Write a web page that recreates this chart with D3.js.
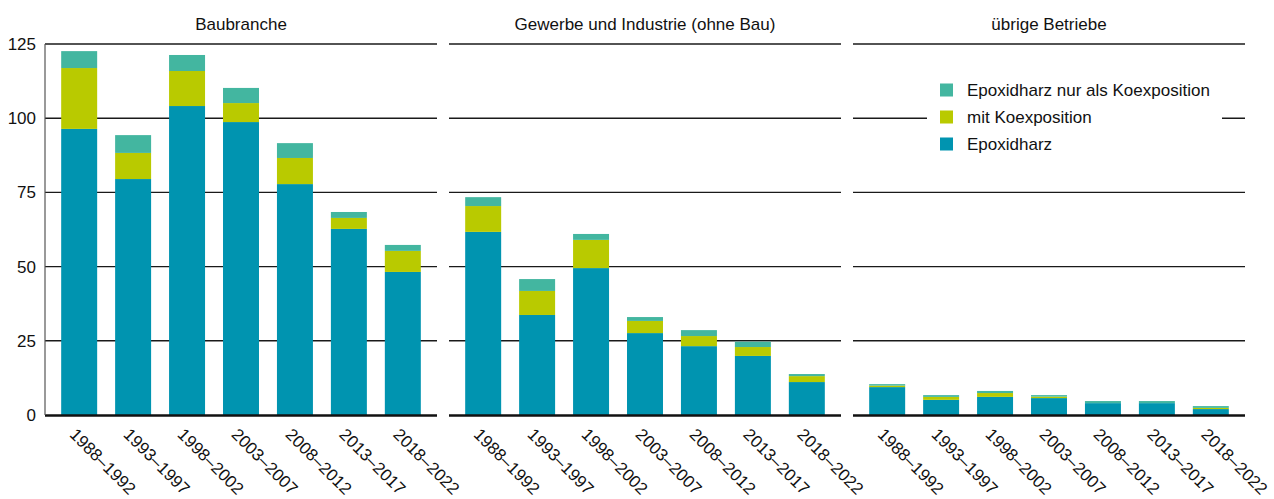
<!DOCTYPE html>
<html><head><meta charset="utf-8">
<script src="https://cdn.jsdelivr.net/npm/d3@7"></script>
<style>
body{margin:0;background:#fff;}
text{font-family:"Liberation Sans",Arial,Helvetica,sans-serif;fill:#111;}
</style></head>
<body><svg id="c" width="1274" height="499"></svg>
<script>
const categories = ["1988–1992","1993–1997","1998–2002","2003–2007","2008–2012","2013–2017","2018–2022"];
const panelTitles = ["Baubranche","Gewerbe und Industrie (ohne Bau)","übrige Betriebe"];
const seriesNames = ["Epoxidharz","mit Koexposition","Epoxidharz nur als Koexposition"];
const yTicks = [0,25,50,75,100,125];
// Baubranche
const epoxidBau  = [96.4,79.5,104.1,98.7,77.8,62.7,48.2];
const mitKoexBau = [20.5,8.8,11.8,6.4,8.8,3.7,7.1];
const nurKoexBau = [5.7,6.0,5.4,5.1,5.0,2.0,2.0];
// Gewerbe und Industrie
const epoxidGew  = [61.7,33.7,49.5,27.6,23.2,19.9,11.1];
const mitKoexGew = [8.7,8.1,9.5,4.1,3.4,3.0,2.0];
const nurKoexGew = [3.0,4.0,2.0,1.3,2.0,1.8,0.7];
// übrige Betriebe
const epoxidUeb  = [9.4,5.1,6.1,5.7,4.0,4.0,2.0];
const mitKoexUeb = [0.5,1.0,1.3,0.5,0.0,0.0,0.4];
const nurKoexUeb = [0.5,0.6,0.7,0.5,0.7,0.7,0.6];

const colors = ["#0094b0","#b9ca00","#43b6a0"];
const panelData = [
  [epoxidBau,mitKoexBau,nurKoexBau],
  [epoxidGew,mitKoexGew,nurKoexGew],
  [epoxidUeb,mitKoexUeb,nurKoexUeb]
];

const svg = d3.select("#c");
const plotTop = 44, plotBottom = 415;
const panelW = 392, panelGap = 12, left0 = 45;
const y = d3.scaleLinear().domain([0,125]).range([plotBottom, plotTop]);
const fx = d3.scaleBand().domain(d3.range(3)).range([left0, left0 + 3*panelW + 2*panelGap]).paddingInner(panelGap/(panelW+panelGap));

// y tick labels
svg.append("g").selectAll("text").data(yTicks).join("text")
  .attr("x", 36).attr("y", d => y(d)).attr("dy","0.35em")
  .attr("text-anchor","end").style("font-size","17px").text(d => d);

panelData.forEach((series, p) => {
  const x0 = fx(p);
  const g = svg.append("g").attr("transform", `translate(${x0},0)`);
  const x = d3.scaleBand().domain(categories).range([0, fx.bandwidth()]).paddingInner(0.333).paddingOuter(0.3);
  // gridlines
  g.append("g").selectAll("line").data(yTicks.filter(d => d>0)).join("line")
    .attr("x1",0).attr("x2",fx.bandwidth()).attr("y1",d=>y(d)).attr("y2",d=>y(d))
    .attr("stroke","#1a1a1a").attr("stroke-width",1.4);
  // stacked bars
  const rows = categories.map((c,i) => ({cat:c, s0:series[0][i], s1:series[1][i], s2:series[2][i]}));
  const stack = d3.stack().keys(["s0","s1","s2"])(rows);
  stack.forEach((layer, k) => {
    g.append("g").attr("fill", colors[k]).selectAll("rect").data(layer).join("rect")
      .attr("x", d => x(d.data.cat)).attr("width", x.bandwidth())
      .attr("y", d => y(d[1])).attr("height", d => Math.max(0, y(d[0]) - y(d[1])));
  });
  // baseline
  g.append("line").attr("x1",0).attr("x2",fx.bandwidth()).attr("y1",y(0)+0.5).attr("y2",y(0)+0.5)
    .attr("stroke","#111").attr("stroke-width",2.5);
  // title
  g.append("text").attr("x", fx.bandwidth()/2).attr("y", 24).attr("dy","0.35em")
    .attr("text-anchor","middle").style("font-size","17px").text(panelTitles[p]);
  // x labels
  g.append("g").selectAll("text").data(categories).join("text")
    .attr("transform", d => `translate(${x(d)+x.bandwidth()/2 - 2},${plotBottom+12}) rotate(45)`)
    .attr("dy","0.71em").attr("text-anchor","start").style("font-size","17px").text(d => d);
});

// left axis line
svg.append("line").attr("x1",left0).attr("x2",left0).attr("y1",plotTop).attr("y2",plotBottom)
  .attr("stroke","#555").attr("stroke-width",1.2);

// legend
const lg = svg.append("g").attr("transform","translate(927,76)");
lg.append("rect").attr("x",0).attr("y",0).attr("width",295).attr("height",82).attr("fill","#fff");
const legendOrder = [2,1,0];
lg.selectAll("g.item").data(legendOrder).join("g").attr("class","item")
  .attr("transform",(d,i)=>`translate(13,${14 + i*27})`)
  .each(function(d){
    const it = d3.select(this);
    it.append("rect").attr("x",0).attr("y",-6.5).attr("width",13).attr("height",13).attr("fill",colors[d]);
    it.append("text").attr("x",27).attr("y",0).attr("dy","0.35em").style("font-size","17px").text(seriesNames[d]);
  });
</script></body></html>
